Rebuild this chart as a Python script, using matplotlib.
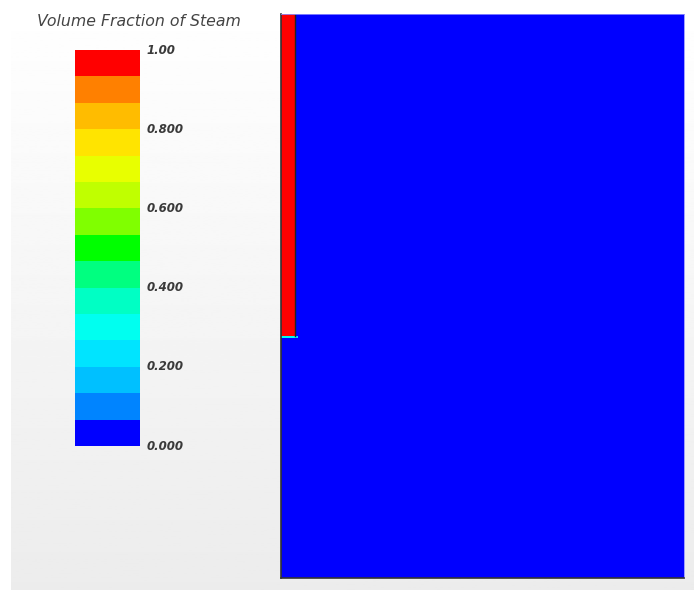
import numpy as np
import matplotlib
matplotlib.use('Agg')
from matplotlib import pyplot as plt
from matplotlib.colors import ListedColormap, BoundaryNorm

# contour levels and their colours (low -> high)
levels = np.linspace(0.0, 1.0, 16)
level_colors = ["#0000ff", "#0084ff", "#00c0ff", "#00e4ff", "#00fff0",
                "#00ffc4", "#00ff80", "#00ff00", "#80ff00", "#c0ff00",
                "#e8ff00", "#ffe400", "#ffbc00", "#ff8000", "#ff0000"]
tick_values = [0.0, 0.2, 0.4, 0.6, 0.8, 1.0]
tick_labels = ["0.000", "0.200", "0.400", "0.600", "0.800", "1.00"]

# steam volume fraction on a coarse cell layout (x to the right, y up)
x_edges = [0.0, 0.035, 0.041, 1.0]
y_edges = [0.0, 0.596, 0.601, 1.4]
steam_fraction = np.array([
    [0.0, 0.0, 0.0],
    [0.30, 0.25, 0.0],
    [1.0, 0.0, 0.0],
])
wall_x = 0.035
wall_y = [0.601, 1.4]

cmap = ListedColormap(level_colors)
norm = BoundaryNorm(levels, cmap.N)

fig = plt.figure(figsize=(6.94, 5.90), dpi=100)
fig.patch.set_facecolor("white")

# light vertical gradient behind everything
bg = fig.add_axes([11/694, 0.0, 1 - 11/694, 1.0])
grad = np.linspace(1.0, 0.925, 256).reshape(-1, 1)
bg.imshow(grad, cmap="gray", vmin=0, vmax=1, aspect="auto", extent=[0, 1, 0, 1])
bg.set_axis_off()

# domain
ax = fig.add_axes([281/694, 12/590, 403/694, 564/590])
ax.pcolormesh(x_edges, y_edges, steam_fraction, cmap=cmap, norm=norm)
ax.plot([wall_x, wall_x], wall_y, color="#222222", lw=1.0)
ax.set_xlim(x_edges[0], x_edges[-1])
ax.set_ylim(y_edges[0], y_edges[-1])
ax.set_xticks([])
ax.set_yticks([])
for side in ["top", "right"]:
    ax.spines[side].set_color("#9090ff")
    ax.spines[side].set_linewidth(0.6)
for side in ["left", "bottom"]:
    ax.spines[side].set_color("#333333")
    ax.spines[side].set_linewidth(1.2)

# colour legend
cax = fig.add_axes([75/694, 144/590, 65/694, 396/590])
cb = fig.colorbar(plt.cm.ScalarMappable(norm=norm, cmap=cmap), cax=cax,
                  boundaries=levels, ticks=tick_values)
cb.outline.set_visible(False)
cb.minorticks_off()
cax.yaxis.set_ticks_position("right")
cax.tick_params(which="both", length=0, pad=5)
cax.set_yticklabels(tick_labels, fontsize=8.5, style="italic", weight="bold",
                    color="#3a3a3a")
for lbl in cax.get_yticklabels():
    lbl.set_verticalalignment("center")

fig.text(139/694, 1 - 22/590, "Volume Fraction of Steam", ha="center", va="center",
         fontsize=11.3, style="italic", color="#444444")

fig.savefig("out.png", dpi=100)
